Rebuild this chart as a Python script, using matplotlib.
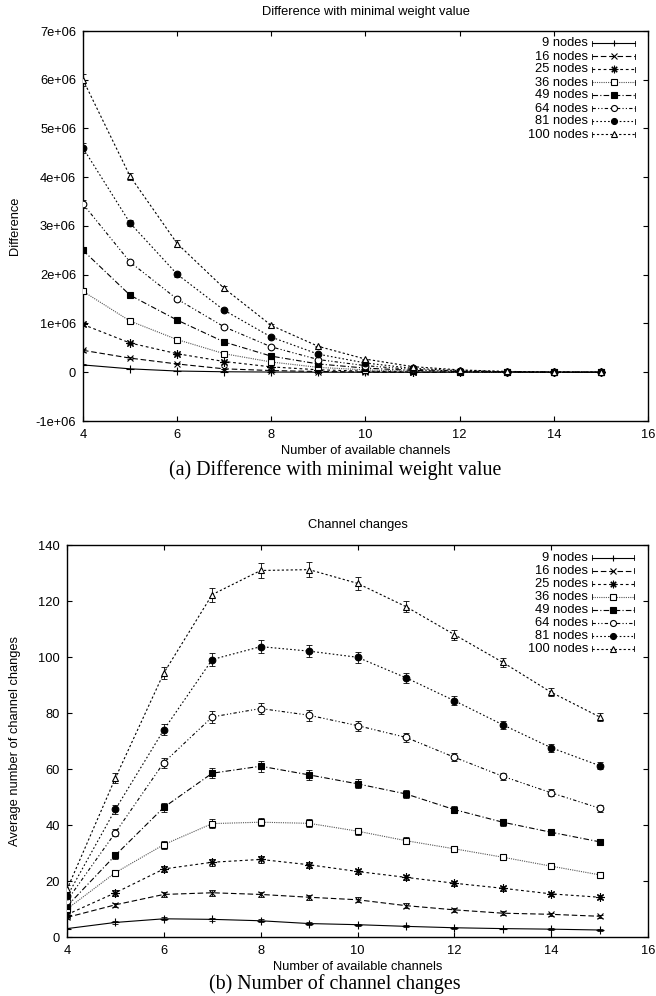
import matplotlib
matplotlib.use("Agg")
import matplotlib.pyplot as plt
import numpy as np

# ---------------- data ----------------
channels = [4, 5, 6, 7, 8, 9, 10, 11, 12, 13, 14, 15]
series_labels = ["9 nodes", "16 nodes", "25 nodes", "36 nodes",
                 "49 nodes", "64 nodes", "81 nodes", "100 nodes"]

# (a) Difference with minimal weight value
diff_9 = [150e3, 70e3, 25e3, 10e3, 4e3, 1e3, 0, 0, 0, 0, 0, 0]
diff_16 = [450e3, 290e3, 170e3, 70e3, 35e3, 15e3, 6e3, 2e3, 1e3, 0, 0, 0]
diff_25 = [980e3, 600e3, 380e3, 220e3, 110e3, 50e3, 22e3, 9e3, 4e3, 1e3, 0, 0]
diff_36 = [1660e3, 1050e3, 670e3, 380e3, 210e3, 100e3, 48e3, 20e3, 8e3, 3e3, 1e3, 0]
diff_49 = [2500e3, 1580e3, 1070e3, 620e3, 330e3, 170e3, 85e3, 38e3, 15e3, 5e3, 2e3, 0]
diff_64 = [3450e3, 2260e3, 1500e3, 930e3, 520e3, 260e3, 135e3, 58e3, 24e3, 8e3, 3e3, 1e3]
diff_81 = [4600e3, 3060e3, 2010e3, 1270e3, 720e3, 370e3, 190e3, 80e3, 34e3, 12e3, 4e3, 1e3]
diff_100 = [6000e3, 4020e3, 2640e3, 1720e3, 960e3, 530e3, 270e3, 115e3, 48e3, 17e3, 6e3, 2e3]

diff_err_9 = [10e3, 5e3, 3e3, 2e3, 1e3, 0, 0, 0, 0, 0, 0, 0]
diff_err_16 = [25e3, 15e3, 10e3, 6e3, 3e3, 2e3, 1e3, 0, 0, 0, 0, 0]
diff_err_25 = [40e3, 25e3, 18e3, 12e3, 7e3, 4e3, 2e3, 1e3, 0, 0, 0, 0]
diff_err_36 = [50e3, 35e3, 25e3, 18e3, 10e3, 6e3, 3e3, 2e3, 1e3, 0, 0, 0]
diff_err_49 = [60e3, 40e3, 30e3, 22e3, 14e3, 8e3, 5e3, 2e3, 1e3, 0, 0, 0]
diff_err_64 = [80e3, 50e3, 40e3, 28e3, 18e3, 12e3, 6e3, 3e3, 1e3, 0, 0, 0]
diff_err_81 = [100e3, 60e3, 55e3, 35e3, 22e3, 15e3, 8e3, 4e3, 2e3, 1e3, 0, 0]
diff_err_100 = [120e3, 70e3, 65e3, 40e3, 25e3, 18e3, 10e3, 5e3, 2e3, 1e3, 0, 0]

# (b) Number of channel changes
chg_9 = [3.0, 5.2, 6.5, 6.3, 5.8, 4.8, 4.4, 3.8, 3.3, 3.0, 2.8, 2.5]
chg_16 = [7.0, 11.5, 15.2, 15.8, 15.2, 14.2, 13.3, 11.2, 9.7, 8.5, 8.1, 7.4]
chg_25 = [8.0, 15.8, 24.3, 26.7, 27.7, 25.8, 23.4, 21.3, 19.2, 17.4, 15.4, 14.2]
chg_36 = [10.0, 23.0, 33.0, 40.5, 41.0, 40.6, 37.8, 34.4, 31.5, 28.5, 25.3, 22.2]
chg_49 = [11.0, 29.2, 46.3, 58.5, 61.0, 57.9, 54.7, 51.1, 45.5, 41.0, 37.4, 34.0]
chg_64 = [13.0, 37.3, 62.3, 78.6, 81.6, 79.2, 75.5, 71.3, 64.2, 57.4, 51.5, 46.0]
chg_81 = [14.5, 45.6, 74.0, 99.1, 103.7, 102.1, 99.9, 92.6, 84.4, 75.8, 67.6, 61.2]
chg_100 = [17.0, 56.8, 94.3, 122.3, 130.9, 131.2, 126.3, 118.0, 108.0, 98.1, 87.4, 78.6]

chg_err_9 = [0.3, 0.4, 0.5, 0.5, 0.5, 0.4, 0.4, 0.4, 0.3, 0.3, 0.3, 0.3]
chg_err_16 = [0.6, 0.8, 1.0, 1.0, 1.0, 0.9, 0.9, 0.8, 0.7, 0.7, 0.6, 0.6]
chg_err_25 = [0.7, 1.0, 1.2, 1.2, 1.2, 1.1, 1.0, 1.0, 0.9, 0.9, 0.8, 0.8]
chg_err_36 = [0.8, 1.1, 1.4, 1.5, 1.5, 1.4, 1.3, 1.2, 1.1, 1.1, 1.0, 1.0]
chg_err_49 = [0.9, 1.2, 1.6, 1.8, 2.0, 1.7, 1.6, 1.5, 1.3, 1.2, 1.1, 1.1]
chg_err_64 = [1.0, 1.4, 1.8, 2.0, 2.0, 1.9, 1.8, 1.6, 1.5, 1.3, 1.2, 1.2]
chg_err_81 = [1.2, 1.6, 2.0, 2.3, 2.4, 2.2, 2.0, 1.8, 1.7, 1.5, 1.4, 1.3]
chg_err_100 = [1.5, 1.8, 2.2, 2.5, 2.8, 2.7, 2.4, 2.1, 1.8, 1.6, 1.5, 1.4]

diff_series = [diff_9, diff_16, diff_25, diff_36, diff_49, diff_64, diff_81, diff_100]
diff_errs = [diff_err_9, diff_err_16, diff_err_25, diff_err_36,
             diff_err_49, diff_err_64, diff_err_81, diff_err_100]
chg_series = [chg_9, chg_16, chg_25, chg_36, chg_49, chg_64, chg_81, chg_100]
chg_errs = [chg_err_9, chg_err_16, chg_err_25, chg_err_36,
            chg_err_49, chg_err_64, chg_err_81, chg_err_100]

top_title = "Difference with minimal weight value"
bot_title = "Channel changes"
xlabel = "Number of available channels"
top_ylabel = "Difference"
bot_ylabel = "Average number of channel changes"
top_caption = "(a) Difference with minimal weight value"
bot_caption = "(b) Number of channel changes"
top_yticks = [-1e6, 0, 1e6, 2e6, 3e6, 4e6, 5e6, 6e6, 7e6]
bot_yticks = [0, 20, 40, 60, 80, 100, 120, 140]
xticks = [4, 6, 8, 10, 12, 14, 16]

# ---------------- styles ----------------
SANS = ["Liberation Sans", "DejaVu Sans"]
SERIF = ["Liberation Serif", "DejaVu Serif"]
FS = 9.3
ast = (8, 2, 0)
styles = [
    dict(ls="-", marker="+", ms=5.5, mfc="black"),
    dict(ls=(0, (5, 2.5)), marker="x", ms=4.5, mfc="black"),
    dict(ls=(0, (2.5, 2.5)), marker=ast, ms=6, mfc="black"),
    dict(ls=(0, (1, 1)), marker="s", ms=4.6, mfc="white"),
    dict(ls=(0, (5, 2, 1, 2)), marker="s", ms=5, mfc="black"),
    dict(ls=(0, (3, 2, 1, 2, 1, 2)), marker="o", ms=4.8, mfc="white"),
    dict(ls=(0, (1.5, 2)), marker="o", ms=4.8, mfc="black"),
    dict(ls=(0, (2, 2)), marker="^", ms=5, mfc="white"),
]
line_colors = ["black", "black", "black", "#555555", "black", "black", "black", "black"]

W, H = 656, 996
fig = plt.figure(figsize=(W / 100, H / 100), dpi=100)


def fx(px):
    return px / W


def fy(py):
    return 1 - py / H


def make_axes(l, t, r, b):
    return fig.add_axes([fx(l), fy(b), fx(r) - fx(l), (b - t) / H])


def style_axes(ax):
    for s in ax.spines.values():
        s.set_linewidth(1.0)
    ax.tick_params(direction="in", length=3.6, width=0.8, top=True, right=True,
                   labelsize=FS, pad=5)
    for lab in ax.get_xticklabels() + ax.get_yticklabels():
        lab.set_fontfamily(SANS)


def draw_series(ax, series, errs):
    for i, (ys, es) in enumerate(zip(series, errs)):
        st = styles[i]
        ax.errorbar(channels, ys, yerr=es, fmt="none", ecolor="black",
                    elinewidth=0.6, capsize=2.2, capthick=0.6, zorder=2)
        ax.plot(channels, ys, linestyle=st["ls"], color=line_colors[i], lw=0.8,
                marker=st["marker"], ms=st["ms"], mfc=st["mfc"], mec="black",
                mew=0.8, zorder=3)


def draw_legend(ax, l, t, r, b, text_right, x0, x1, y_first, step):
    aw, ah = r - l, b - t
    for i, lab in enumerate(series_labels):
        st = styles[i]
        py = y_first + step * i
        ya = 1 - (py - t) / ah
        ax.text((text_right - l) / aw, ya, lab, transform=ax.transAxes,
                ha="right", va="center", fontsize=FS, family=SANS)
        xa0, xa1 = (x0 - l) / aw, (x1 - l) / aw
        ax.plot([xa0, xa1], [ya, ya], transform=ax.transAxes, color=line_colors[i],
                lw=0.8, linestyle=st["ls"], clip_on=False)
        cap = 2.5 / ah
        for xa in (xa0, xa1):
            ax.plot([xa, xa], [ya - cap, ya + cap], transform=ax.transAxes,
                    color="black", lw=0.6, clip_on=False)
        ax.plot([(xa0 + xa1) / 2], [ya], transform=ax.transAxes, marker=st["marker"],
                ms=st["ms"] * 0.9, mfc=st["mfc"], mec="black", mew=0.8, clip_on=False,
                linestyle="none")


def sci_fmt(v):
    if v == 0:
        return "0"
    m, e = f"{v:.0e}".split("e")
    return f"{m}e{e[0]}{e[1:].zfill(2)}"


# ---------------- top chart ----------------
T = (83, 31, 648, 421)
ax1 = make_axes(*T)
draw_series(ax1, diff_series, diff_errs)
ax1.set_xlim(4, 16)
ax1.set_ylim(-1e6, 7e6)
ax1.set_xticks(xticks)
ax1.set_yticks(top_yticks)
ax1.set_yticklabels([sci_fmt(v) for v in top_yticks])
style_axes(ax1)
ax1.tick_params(axis="x", pad=6)
draw_legend(ax1, *T, text_right=588, x0=592, x1=635, y_first=43.5, step=13)

fig.text(fx(365.5), fy(12), top_title, ha="center", va="center", fontsize=FS, family=SANS)
fig.text(fx(15), fy(226), top_ylabel, ha="center", va="center", rotation=90,
         fontsize=FS, family=SANS)
fig.text(fx(365.5), fy(451.5), xlabel, ha="center", va="center", fontsize=FS, family=SANS)
fig.text(fx(335), fy(470), top_caption, ha="center", va="center", fontsize=14.4,
         family=SERIF)

# ---------------- bottom chart ----------------
B = (67, 545, 648, 937)
ax2 = make_axes(*B)
draw_series(ax2, chg_series, chg_errs)
ax2.set_xlim(4, 16)
ax2.set_ylim(0, 140)
ax2.set_xticks(xticks)
ax2.set_yticks(bot_yticks)
style_axes(ax2)
ax2.tick_params(axis="x", pad=6)
draw_legend(ax2, *B, text_right=588, x0=592, x1=634, y_first=557.5, step=13)

fig.text(fx(357.5), fy(525), bot_title, ha="center", va="center", fontsize=FS, family=SANS)
fig.text(fx(15), fy(741), bot_ylabel, ha="center", va="center", rotation=90,
         fontsize=FS, family=SANS)
fig.text(fx(357.5), fy(966.5), xlabel, ha="center", va="center", fontsize=FS, family=SANS)
fig.text(fx(335), fy(984.5), bot_caption, ha="center", va="center", fontsize=14.4,
         family=SERIF)

fig.savefig("out.png", dpi=100)
